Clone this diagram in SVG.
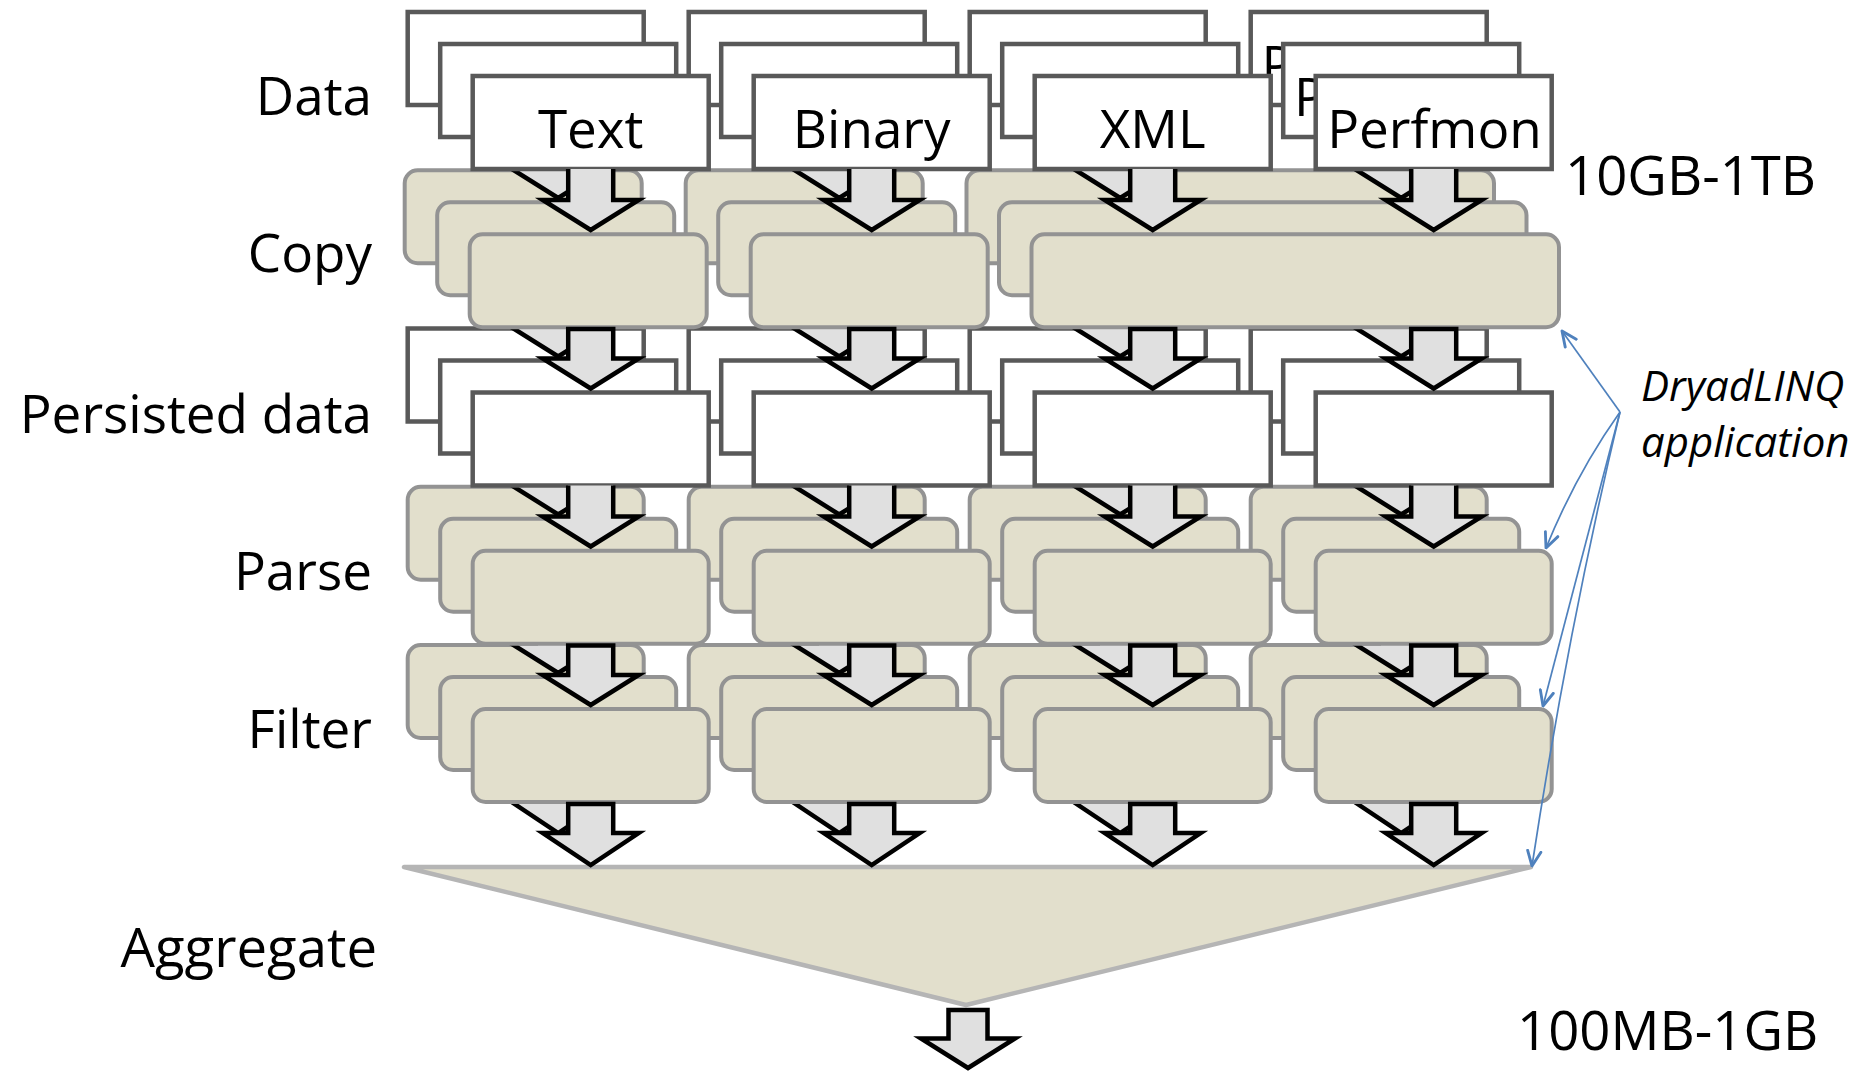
<svg xmlns="http://www.w3.org/2000/svg" width="1858" height="1074" viewBox="0 0 1858 1074">
<defs>
<style>
.wb{fill:#ffffff;stroke:#595959;stroke-width:4.5}
.tb{fill:#E2DFCC;stroke:#939393;stroke-width:4}
.agg{fill:#E2DFCC;stroke:#B5B5B5;stroke-width:4.5;stroke-linejoin:round}
.ar{fill:#E0E0E0;stroke:#000000;stroke-width:4.5;stroke-linejoin:miter}
.lbl{font-family:"Open Sans","Liberation Sans",sans-serif;font-size:53px;fill:#000000}
.big{font-size:54.5px}
.end{text-anchor:end}
.mid{text-anchor:middle}
.ann{font-family:"Open Sans","Liberation Sans",sans-serif;font-style:italic;font-size:42px;fill:#000000}
.bl{fill:none;stroke:#4F81BD;stroke-width:1.7}
</style>
<marker id="vh" viewBox="0 0 12 12" refX="11" refY="6" markerWidth="18" markerHeight="18" markerUnits="userSpaceOnUse" orient="auto">
<path d="M1,1.5 L11,6 L1,10.5" fill="none" stroke="#4F81BD" stroke-width="1.9" stroke-linecap="round" stroke-linejoin="round"/>
</marker>
</defs>
<rect x="0" y="0" width="1858" height="1074" fill="#ffffff"/>

<!-- ===== BACK LAYER ===== -->
<g id="nodes-back" transform="translate(-65,-64)">
<g id="data-text-b"><rect class="wb" x="472.7" y="76" width="236" height="93"/></g>
<g id="data-binary-b"><rect class="wb" x="753.7" y="76" width="236" height="93"/></g>
<g id="data-xml-b"><rect class="wb" x="1034.7" y="76" width="236" height="93"/></g>
<g id="data-perfmon-b"><rect class="wb" x="1315.7" y="76" width="236" height="93"/><text class="lbl" x="1326.5" y="147.5">P</text></g>
<g id="copy-text-b"><rect class="tb" x="469.7" y="234.25" width="237" height="93" rx="13"/></g>
<g id="copy-binary-b"><rect class="tb" x="750.7" y="234.25" width="237" height="93" rx="13"/></g>
<g id="copy-xmlperf-b"><rect class="tb" x="1031.5" y="234.25" width="527.5" height="93" rx="13"/></g>
<g id="pers-text-b"><rect class="wb" x="472.7" y="392.5" width="236" height="93"/></g>
<g id="pers-binary-b"><rect class="wb" x="753.7" y="392.5" width="236" height="93"/></g>
<g id="pers-xml-b"><rect class="wb" x="1034.7" y="392.5" width="236" height="93"/></g>
<g id="pers-perfmon-b"><rect class="wb" x="1315.7" y="392.5" width="236" height="93"/></g>
<g id="parse-text-b"><rect class="tb" x="472.7" y="550.75" width="236" height="93" rx="13"/></g>
<g id="parse-binary-b"><rect class="tb" x="753.7" y="550.75" width="236" height="93" rx="13"/></g>
<g id="parse-xml-b"><rect class="tb" x="1034.7" y="550.75" width="236" height="93" rx="13"/></g>
<g id="parse-perfmon-b"><rect class="tb" x="1315.7" y="550.75" width="236" height="93" rx="13"/></g>
<g id="filter-text-b"><rect class="tb" x="472.7" y="709" width="236" height="93" rx="13"/></g>
<g id="filter-binary-b"><rect class="tb" x="753.7" y="709" width="236" height="93" rx="13"/></g>
<g id="filter-xml-b"><rect class="tb" x="1034.7" y="709" width="236" height="93" rx="13"/></g>
<g id="filter-perfmon-b"><rect class="tb" x="1315.7" y="709" width="236" height="93" rx="13"/></g>
</g>
<g id="connectors-back" transform="translate(-65,-64)">
<path class="ar" d="M613.2,169 V200 H638.7 L590.7,230 L542.7,200 H568.2 V169"/>
<path class="ar" d="M894.2,169 V200 H919.7 L871.7,230 L823.7,200 H849.2 V169"/>
<path class="ar" d="M1175.2,169 V200 H1200.7 L1152.7,230 L1104.7,200 H1130.2 V169"/>
<path class="ar" d="M1456.2,169 V200 H1481.7 L1433.7,230 L1385.7,200 H1411.2 V169"/>
<path class="ar" d="M568.2,329 H613.2 V358.5 H638.7 L590.7,388.5 L542.7,358.5 H568.2 Z"/>
<path class="ar" d="M849.2,329 H894.2 V358.5 H919.7 L871.7,388.5 L823.7,358.5 H849.2 Z"/>
<path class="ar" d="M1130.2,329 H1175.2 V358.5 H1200.7 L1152.7,388.5 L1104.7,358.5 H1130.2 Z"/>
<path class="ar" d="M1411.2,329 H1456.2 V358.5 H1481.7 L1433.7,388.5 L1385.7,358.5 H1411.2 Z"/>
<path class="ar" d="M613.2,485.5 V516.5 H638.7 L590.7,546.5 L542.7,516.5 H568.2 V485.5"/>
<path class="ar" d="M894.2,485.5 V516.5 H919.7 L871.7,546.5 L823.7,516.5 H849.2 V485.5"/>
<path class="ar" d="M1175.2,485.5 V516.5 H1200.7 L1152.7,546.5 L1104.7,516.5 H1130.2 V485.5"/>
<path class="ar" d="M1456.2,485.5 V516.5 H1481.7 L1433.7,546.5 L1385.7,516.5 H1411.2 V485.5"/>
<path class="ar" d="M568.2,645.5 H613.2 V675 H638.7 L590.7,705 L542.7,675 H568.2 Z"/>
<path class="ar" d="M849.2,645.5 H894.2 V675 H919.7 L871.7,705 L823.7,675 H849.2 Z"/>
<path class="ar" d="M1130.2,645.5 H1175.2 V675 H1200.7 L1152.7,705 L1104.7,675 H1130.2 Z"/>
<path class="ar" d="M1411.2,645.5 H1456.2 V675 H1481.7 L1433.7,705 L1385.7,675 H1411.2 Z"/>
<path class="ar" d="M568.2,804 H613.2 V833 H638.7 L590.7,865 L542.7,833 H568.2 Z"/>
<path class="ar" d="M849.2,804 H894.2 V833 H919.7 L871.7,865 L823.7,833 H849.2 Z"/>
<path class="ar" d="M1130.2,804 H1175.2 V833 H1200.7 L1152.7,865 L1104.7,833 H1130.2 Z"/>
<path class="ar" d="M1411.2,804 H1456.2 V833 H1481.7 L1433.7,865 L1385.7,833 H1411.2 Z"/>
</g>

<!-- ===== MIDDLE LAYER ===== -->
<g id="nodes-middle" transform="translate(-32.5,-32)">
<g id="data-text-m"><rect class="wb" x="472.7" y="76" width="236" height="93"/></g>
<g id="data-binary-m"><rect class="wb" x="753.7" y="76" width="236" height="93"/></g>
<g id="data-xml-m"><rect class="wb" x="1034.7" y="76" width="236" height="93"/></g>
<g id="data-perfmon-m"><rect class="wb" x="1315.7" y="76" width="236" height="93"/><text class="lbl" x="1326.5" y="147.5">P</text></g>
<g id="copy-text-m"><rect class="tb" x="469.7" y="234.25" width="237" height="93" rx="13"/></g>
<g id="copy-binary-m"><rect class="tb" x="750.7" y="234.25" width="237" height="93" rx="13"/></g>
<g id="copy-xmlperf-m"><rect class="tb" x="1031.5" y="234.25" width="527.5" height="93" rx="13"/></g>
<g id="pers-text-m"><rect class="wb" x="472.7" y="392.5" width="236" height="93"/></g>
<g id="pers-binary-m"><rect class="wb" x="753.7" y="392.5" width="236" height="93"/></g>
<g id="pers-xml-m"><rect class="wb" x="1034.7" y="392.5" width="236" height="93"/></g>
<g id="pers-perfmon-m"><rect class="wb" x="1315.7" y="392.5" width="236" height="93"/></g>
<g id="parse-text-m"><rect class="tb" x="472.7" y="550.75" width="236" height="93" rx="13"/></g>
<g id="parse-binary-m"><rect class="tb" x="753.7" y="550.75" width="236" height="93" rx="13"/></g>
<g id="parse-xml-m"><rect class="tb" x="1034.7" y="550.75" width="236" height="93" rx="13"/></g>
<g id="parse-perfmon-m"><rect class="tb" x="1315.7" y="550.75" width="236" height="93" rx="13"/></g>
<g id="filter-text-m"><rect class="tb" x="472.7" y="709" width="236" height="93" rx="13"/></g>
<g id="filter-binary-m"><rect class="tb" x="753.7" y="709" width="236" height="93" rx="13"/></g>
<g id="filter-xml-m"><rect class="tb" x="1034.7" y="709" width="236" height="93" rx="13"/></g>
<g id="filter-perfmon-m"><rect class="tb" x="1315.7" y="709" width="236" height="93" rx="13"/></g>
</g>
<g id="connectors-middle" transform="translate(-32.5,-32)">
<path class="ar" d="M613.2,169 V200 H638.7 L590.7,230 L542.7,200 H568.2 V169"/>
<path class="ar" d="M894.2,169 V200 H919.7 L871.7,230 L823.7,200 H849.2 V169"/>
<path class="ar" d="M1175.2,169 V200 H1200.7 L1152.7,230 L1104.7,200 H1130.2 V169"/>
<path class="ar" d="M1456.2,169 V200 H1481.7 L1433.7,230 L1385.7,200 H1411.2 V169"/>
<path class="ar" d="M568.2,329 H613.2 V358.5 H638.7 L590.7,388.5 L542.7,358.5 H568.2 Z"/>
<path class="ar" d="M849.2,329 H894.2 V358.5 H919.7 L871.7,388.5 L823.7,358.5 H849.2 Z"/>
<path class="ar" d="M1130.2,329 H1175.2 V358.5 H1200.7 L1152.7,388.5 L1104.7,358.5 H1130.2 Z"/>
<path class="ar" d="M1411.2,329 H1456.2 V358.5 H1481.7 L1433.7,388.5 L1385.7,358.5 H1411.2 Z"/>
<path class="ar" d="M613.2,485.5 V516.5 H638.7 L590.7,546.5 L542.7,516.5 H568.2 V485.5"/>
<path class="ar" d="M894.2,485.5 V516.5 H919.7 L871.7,546.5 L823.7,516.5 H849.2 V485.5"/>
<path class="ar" d="M1175.2,485.5 V516.5 H1200.7 L1152.7,546.5 L1104.7,516.5 H1130.2 V485.5"/>
<path class="ar" d="M1456.2,485.5 V516.5 H1481.7 L1433.7,546.5 L1385.7,516.5 H1411.2 V485.5"/>
<path class="ar" d="M568.2,645.5 H613.2 V675 H638.7 L590.7,705 L542.7,675 H568.2 Z"/>
<path class="ar" d="M849.2,645.5 H894.2 V675 H919.7 L871.7,705 L823.7,675 H849.2 Z"/>
<path class="ar" d="M1130.2,645.5 H1175.2 V675 H1200.7 L1152.7,705 L1104.7,675 H1130.2 Z"/>
<path class="ar" d="M1411.2,645.5 H1456.2 V675 H1481.7 L1433.7,705 L1385.7,675 H1411.2 Z"/>
<path class="ar" d="M568.2,804 H613.2 V833 H638.7 L590.7,865 L542.7,833 H568.2 Z"/>
<path class="ar" d="M849.2,804 H894.2 V833 H919.7 L871.7,865 L823.7,833 H849.2 Z"/>
<path class="ar" d="M1130.2,804 H1175.2 V833 H1200.7 L1152.7,865 L1104.7,833 H1130.2 Z"/>
<path class="ar" d="M1411.2,804 H1456.2 V833 H1481.7 L1433.7,865 L1385.7,833 H1411.2 Z"/>
</g>

<!-- ===== FRONT LAYER ===== -->
<g id="nodes-front">
<g id="data-text"><rect class="wb" x="472.7" y="76" width="236" height="93"/><text class="lbl mid" x="590.7" y="147.5">Text</text></g>
<g id="data-binary"><rect class="wb" x="753.7" y="76" width="236" height="93"/><text class="lbl mid" x="871.7" y="147.5">Binary</text></g>
<g id="data-xml"><rect class="wb" x="1034.7" y="76" width="236" height="93"/><text class="lbl mid" x="1152.7" y="147.5">XML</text></g>
<g id="data-perfmon"><rect class="wb" x="1315.7" y="76" width="236" height="93"/><text class="lbl mid" x="1434.5" y="147.5">Perfmon</text></g>
<g id="copy-text"><rect class="tb" x="469.7" y="234.25" width="237" height="93" rx="13"/></g>
<g id="copy-binary"><rect class="tb" x="750.7" y="234.25" width="237" height="93" rx="13"/></g>
<g id="copy-xmlperf"><rect class="tb" x="1031.5" y="234.25" width="527.5" height="93" rx="13"/></g>
<g id="pers-text"><rect class="wb" x="472.7" y="392.5" width="236" height="93"/></g>
<g id="pers-binary"><rect class="wb" x="753.7" y="392.5" width="236" height="93"/></g>
<g id="pers-xml"><rect class="wb" x="1034.7" y="392.5" width="236" height="93"/></g>
<g id="pers-perfmon"><rect class="wb" x="1315.7" y="392.5" width="236" height="93"/></g>
<g id="parse-text"><rect class="tb" x="472.7" y="550.75" width="236" height="93" rx="13"/></g>
<g id="parse-binary"><rect class="tb" x="753.7" y="550.75" width="236" height="93" rx="13"/></g>
<g id="parse-xml"><rect class="tb" x="1034.7" y="550.75" width="236" height="93" rx="13"/></g>
<g id="parse-perfmon"><rect class="tb" x="1315.7" y="550.75" width="236" height="93" rx="13"/></g>
<g id="filter-text"><rect class="tb" x="472.7" y="709" width="236" height="93" rx="13"/></g>
<g id="filter-binary"><rect class="tb" x="753.7" y="709" width="236" height="93" rx="13"/></g>
<g id="filter-xml"><rect class="tb" x="1034.7" y="709" width="236" height="93" rx="13"/></g>
<g id="filter-perfmon"><rect class="tb" x="1315.7" y="709" width="236" height="93" rx="13"/></g>
<g id="aggregate"><polygon class="agg" points="404,867 1531,867 966,1005"/></g>
</g>
<g id="connectors-front">
<path class="ar" d="M613.2,169 V200 H638.7 L590.7,230 L542.7,200 H568.2 V169"/>
<path class="ar" d="M894.2,169 V200 H919.7 L871.7,230 L823.7,200 H849.2 V169"/>
<path class="ar" d="M1175.2,169 V200 H1200.7 L1152.7,230 L1104.7,200 H1130.2 V169"/>
<path class="ar" d="M1456.2,169 V200 H1481.7 L1433.7,230 L1385.7,200 H1411.2 V169"/>
<path class="ar" d="M568.2,329 H613.2 V358.5 H638.7 L590.7,388.5 L542.7,358.5 H568.2 Z"/>
<path class="ar" d="M849.2,329 H894.2 V358.5 H919.7 L871.7,388.5 L823.7,358.5 H849.2 Z"/>
<path class="ar" d="M1130.2,329 H1175.2 V358.5 H1200.7 L1152.7,388.5 L1104.7,358.5 H1130.2 Z"/>
<path class="ar" d="M1411.2,329 H1456.2 V358.5 H1481.7 L1433.7,388.5 L1385.7,358.5 H1411.2 Z"/>
<path class="ar" d="M613.2,485.5 V516.5 H638.7 L590.7,546.5 L542.7,516.5 H568.2 V485.5"/>
<path class="ar" d="M894.2,485.5 V516.5 H919.7 L871.7,546.5 L823.7,516.5 H849.2 V485.5"/>
<path class="ar" d="M1175.2,485.5 V516.5 H1200.7 L1152.7,546.5 L1104.7,516.5 H1130.2 V485.5"/>
<path class="ar" d="M1456.2,485.5 V516.5 H1481.7 L1433.7,546.5 L1385.7,516.5 H1411.2 V485.5"/>
<path class="ar" d="M568.2,645.5 H613.2 V675 H638.7 L590.7,705 L542.7,675 H568.2 Z"/>
<path class="ar" d="M849.2,645.5 H894.2 V675 H919.7 L871.7,705 L823.7,675 H849.2 Z"/>
<path class="ar" d="M1130.2,645.5 H1175.2 V675 H1200.7 L1152.7,705 L1104.7,675 H1130.2 Z"/>
<path class="ar" d="M1411.2,645.5 H1456.2 V675 H1481.7 L1433.7,705 L1385.7,675 H1411.2 Z"/>
<path class="ar" d="M568.2,804 H613.2 V833 H638.7 L590.7,865 L542.7,833 H568.2 Z"/>
<path class="ar" d="M849.2,804 H894.2 V833 H919.7 L871.7,865 L823.7,833 H849.2 Z"/>
<path class="ar" d="M1130.2,804 H1175.2 V833 H1200.7 L1152.7,865 L1104.7,833 H1130.2 Z"/>
<path class="ar" d="M1411.2,804 H1456.2 V833 H1481.7 L1433.7,865 L1385.7,833 H1411.2 Z"/>
<path class="ar" d="M948.5,1010 H987.5 V1038.5 H1015 L968,1068 L921,1038.5 H948.5 Z"/>
</g>

<!-- ===== LABELS ===== -->
<g id="row-labels">
<text class="lbl end" x="372" y="115">Data</text>
<text class="lbl end" x="372" y="272">Copy</text>
<text class="lbl end" x="372" y="433">Persisted data</text>
<text class="lbl end" x="372" y="590">Parse</text>
<text class="lbl end" x="372" y="748">Filter</text>
<text class="lbl end big" x="377" y="967">Aggregate</text>
</g>
<g id="size-labels">
<text class="lbl big" x="1565" y="195">10GB-1TB</text>
<text class="lbl big" x="1517" y="1050">100MB-1GB</text>
</g>

<!-- ===== ANNOTATION ===== -->
<g id="annotation">
<text class="ann" x="1641" y="401">DryadLINQ</text>
<text class="ann" x="1641" y="457">application</text>
<g id="annotation-connectors">
<path class="bl" d="M1620,412 L1562,331" marker-end="url(#vh)"/>
<path class="bl" d="M1620,412 Q1576,474 1546,548" marker-end="url(#vh)"/>
<path class="bl" d="M1620,412 Q1584,552 1543,706" marker-end="url(#vh)"/>
<path class="bl" d="M1620,412 Q1568,630 1532,866" marker-end="url(#vh)"/>
</g>
</g>
</svg>
